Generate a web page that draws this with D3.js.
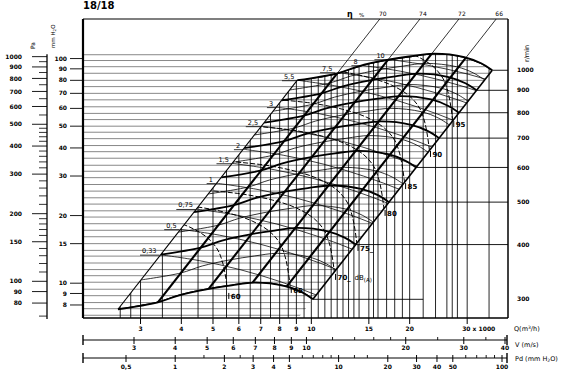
<!DOCTYPE html>
<html>
<head>
<meta charset="utf-8">
<script src="https://cdn.jsdelivr.net/npm/d3@7"></script>
<style>
body { margin: 0; background: #fff; }
text { font-family: "DejaVu Sans", sans-serif; fill: #000; }
</style>
</head>
<body>
<svg id="chart" width="566" height="371"></svg>
<script>
// fan 18/18 : base characteristic at 1000 r/min (Q in 1000 m3/h, P in mm H2O)
var baseQ = [9.06, 12.0, 13.95, 16.9, 20.2, 23.7, 29.4, 33.1, 35.8];
var baseP = [80.1, 86.0, 92.4, 98.3, 102.4, 105.2, 101.6, 95.3, 88.7];
var qExp = 1.05, pExp = 1.95;

var rpmCurves = [300, 350, 400, 450, 500, 550, 600, 650, 700, 750, 800, 850, 900, 950, 1000];
var rpmLabels = [1000, 900, 800, 700, 600, 500, 400, 300];

// efficiency lines, Q where they reach the top of the chart
var etaLabels = ["70", "74", "72", "66"];
var etaQ = [16.2, 21.5, 28.3, 36.8];

// absorbed power (kW), start point of each curve
var powerLabels = ["0,33", "0,5", "0,75", "1", "1,5", "2", "2,5", "3", "5,5", "7,5", "8", "10"];
var powerQ = [3.43, 3.95, 4.43, 5.10, 5.71, 6.18, 7.02, 7.80, 9.06, 11.85, 14.15, 17.13];
var powerP = [13.4, 17.4, 21.4, 27.9, 34.2, 39.5, 50.0, 60.8, 80.1, 86.9, 93.4, 99.3];
var powerShapeQ = [1, 1.327, 1.762, 2.338, 3.104, 4.120, 5.468, 7.257];
var powerShapeP = [1, 0.940, 0.858, 0.759, 0.651, 0.541, 0.432, 0.331];

// sound level dB(A), start point of each curve
var dbLabels = ["60", "65", "70", "75", "80", "85", "90", "95"];
var dbQ = [5.55, 8.62, 11.78, 13.8, 16.7, 19.3, 23.0, 27.1];
var dbP = [9.05, 9.63, 11.0, 14.8, 21.2, 27.9, 38.8, 52.7];
var dbShapeQ = [1, 0.986, 0.965, 0.932, 0.868, 0.764, 0.645, 0.521, 0.398];
var dbShapeP = [1, 1.166, 1.359, 1.553, 1.756, 1.965, 2.132, 2.268, 2.360];

// grid
var hGrid = [104, 98, 92, 86, 80, 75, 70, 65.5, 61, 57, 53.5, 50, 47, 44, 41, 38.5, 36, 33.5, 31.5,
  29.5, 27.5, 25.7, 24, 22.5, 21, 19.7, 18.4, 17.2, 16.1, 15, 14, 13.2, 12.3, 11.5, 10.8, 10.1,
  9.4, 8.8, 8.2, 7.7, 7.2];
var vGrid = [2.6, 2.8, 3, 3.5, 4, 4.5, 5, 5.5, 6, 6.5, 7, 7.5, 8, 8.5, 9, 9.5, 10, 10.5, 11, 11.5,
  12, 12.5, 13, 13.5, 14, 15, 15.5, 16, 17, 18, 19, 20, 22, 24, 26, 27, 28, 30, 35];

// axes
var qTicks = [3, 4, 5, 6, 7, 8, 9, 10, 15, 20, 30];
var mmTicks = [100, 90, 80, 70, 60, 50, 40, 30, 20, 15, 10, 9, 8];
var paTicks = [1000, 900, 800, 700, 600, 500, 400, 300, 200, 150, 100, 90, 80];
var paMinor = [950, 850, 750, 650, 550, 480, 460, 440, 420, 380, 360, 340, 320, 280, 260, 240, 220,
  190, 180, 170, 160, 140, 130, 120, 110, 70];
var vTicks = [3, 4, 5, 6, 7, 8, 9, 10, 20, 30, 40];
var vMinor = [12, 14, 16, 18, 25, 35];
var pdTicks = ["0,5", "1", "2", "3", "4", "5", "10", "20", "30", "40", "50", "100"];
var pdVals = [0.5, 1, 2, 3, 4, 5, 10, 20, 30, 40, 50, 100];
var pdMinor = [1.5, 2.5, 6, 7, 8, 9, 12.5, 15, 60, 70, 80, 90];

var fx0 = 83, fx1 = 508, fy0 = 19, fy1 = 318;
var x = d3.scaleLog().domain([2, 40]).range([fx0, fx1]);
var y = d3.scaleLog().domain([7, 150]).range([fy1, fy0]);
var vx = d3.scaleLog().domain([3, 40]).range([134, 505]);
var pdx = d3.scaleLog().domain([0.5, 100]).range([126, 502]);

var svg = d3.select("#chart");
var line = d3.line().curve(d3.curveCatmullRom.alpha(0.5));

function px(p) { return [x(p[0]), y(p[1])]; }
function fanCurve(n) {
  var s = n / 1000;
  return baseQ.map(function(q, i) { return [q * Math.pow(s, qExp), baseP[i] * Math.pow(s, pExp)]; });
}
function sysAt(pt, P) { return [pt[0] * Math.pow(P / pt[1], qExp / pExp), P]; }
function cont(d) { return d.replace(/^M/, "L"); }

var topPts = fanCurve(1000).map(px), botPts = fanCurve(300).map(px);
var topStart = topPts[0], topEnd = topPts[topPts.length - 1];
var leftFoot = px(sysAt(fanCurve(300)[0], 7));
var rightFoot = px(sysAt(fanCurve(1000)[8], 7));

var defs = svg.append("defs");
function clip(id, d) { defs.append("clipPath").attr("id", id).append("path").attr("d", d); }
clip("env", line(topPts) + cont(line(botPts.slice().reverse())) + "Z");
clip("above", "M" + fx0 + "," + fy0 + "L" + fx1 + "," + fy0 + "L" + fx1 + "," + topEnd[1] +
  cont(line(topPts.slice().reverse())) + "L" + fx0 + "," + topStart[1] + "Z");
clip("under", "M" + leftFoot + "L" + topStart + cont(line(topPts)) + "L" + fx1 + "," + topEnd[1] +
  "L" + fx1 + "," + fy1 + "Z");
clip("left", "M" + fx0 + "," + fy1 + "L" + fx0 + "," + fy0 + "L" + topPts[5][0] + "," + fy0 +
  cont(line(topPts.slice(5))) + "L" + rightFoot + "Z");

// horizontal grid
svg.append("g").attr("clip-path", "url(#left)").selectAll("line").data(hGrid).enter().append("line")
  .attr("x1", fx0).attr("x2", fx1)
  .attr("y1", function(d) { return y(d); }).attr("y2", function(d) { return y(d); })
  .attr("stroke", "#6a6a6a").attr("stroke-width", 0.8);

// rpm lines to the right scale
svg.append("g").selectAll("line").data(rpmLabels).enter().append("line")
  .attr("x1", function(n) { return x(fanCurve(n)[8][0]); })
  .attr("x2", function(n) { return n === 300 ? x(22) : fx1; })
  .attr("y1", function(n) { return y(fanCurve(n)[8][1]); })
  .attr("y2", function(n) { return y(fanCurve(n)[8][1]); })
  .attr("stroke", "#000").attr("stroke-width", 0.9);

// vertical grid
svg.append("g").attr("clip-path", "url(#under)").selectAll("line").data(vGrid).enter().append("line")
  .attr("x1", function(d) { return x(d); }).attr("x2", function(d) { return x(d); })
  .attr("y1", fy0).attr("y2", fy1)
  .attr("stroke", "#000").attr("stroke-width", 0.85);

// efficiency lines: thin above the envelope, thick inside
function etaPath(q) { return line([px([q, 150]), px(sysAt([q, 150], 7))]); }
svg.append("g").attr("clip-path", "url(#above)").selectAll("path").data(etaQ).enter().append("path")
  .attr("d", etaPath).attr("fill", "none").attr("stroke", "#000").attr("stroke-width", 0.8);

var inside = svg.append("g").attr("clip-path", "url(#env)");

// power curves
powerQ.forEach(function(q, i) {
  var pts = powerShapeQ.map(function(m, j) { return px([q * m, powerP[i] * powerShapeP[j]]); });
  inside.append("path").attr("d", line(pts)).attr("fill", "none")
    .attr("stroke", "#000").attr("stroke-width", 0.75);
});

// fan curves
inside.selectAll("path.rpm").data(rpmCurves).enter().append("path").attr("class", "rpm")
  .attr("d", function(n) { return line(fanCurve(n).map(px)); })
  .attr("fill", "none").attr("stroke", "#000")
  .attr("stroke-width", function(n) { return n % 100 === 0 ? 1.8 : 0.8; });

inside.selectAll("path.eta").data(etaQ).enter().append("path").attr("class", "eta")
  .attr("d", etaPath).attr("fill", "none").attr("stroke", "#000").attr("stroke-width", 2.1);

// sound level curves
dbQ.forEach(function(q, i) {
  var pts = dbShapeQ.map(function(m, j) { return px([q * m, dbP[i] * dbShapeP[j]]); });
  inside.append("path").attr("d", line(pts)).attr("fill", "none")
    .attr("stroke", "#000").attr("stroke-width", 1).attr("stroke-dasharray", "5,2");
});

// envelope edges
svg.append("path").attr("d", line([botPts[0], topStart])).attr("stroke", "#000")
  .attr("stroke-width", 1.1).attr("fill", "none");
svg.append("path").attr("d", line([botPts[botPts.length - 1], topEnd])).attr("stroke", "#000")
  .attr("stroke-width", 1.6).attr("fill", "none");
svg.append("path").attr("d", line(topPts)).attr("stroke", "#000").attr("stroke-width", 1.8).attr("fill", "none");
svg.append("path").attr("d", line(botPts)).attr("stroke", "#000").attr("stroke-width", 1.8).attr("fill", "none");

// frame
svg.append("line").attr("x1", fx0).attr("x2", fx0).attr("y1", fy0).attr("y2", fy1).attr("stroke", "#000").attr("stroke-width", 2.2);
svg.append("line").attr("x1", fx0).attr("x2", fx1).attr("y1", fy1).attr("y2", fy1).attr("stroke", "#000").attr("stroke-width", 1.6);
svg.append("line").attr("x1", fx0).attr("x2", fx1).attr("y1", fy0).attr("y2", fy0).attr("stroke", "#000").attr("stroke-width", 1.2);
svg.append("line").attr("x1", fx1).attr("x2", fx1).attr("y1", fy0).attr("y2", fy1).attr("stroke", "#000").attr("stroke-width", 1.5);

// title
svg.append("text").attr("x", fx0).attr("y", 9).attr("font-size", 10).attr("font-weight", "bold")
  .attr("font-family", "Liberation Sans, sans-serif").text("18/18");

// efficiency labels
svg.append("text").attr("x", 347).attr("y", 17).attr("font-size", 8).attr("font-weight", "bold").text("η");
svg.append("text").attr("x", 359).attr("y", 17).attr("font-size", 5.5).text("%");
svg.selectAll("text.eta").data(etaQ).enter().append("text").attr("class", "eta")
  .attr("x", function(d) { return x(d) + 3; }).attr("y", 16).attr("text-anchor", "middle")
  .attr("font-size", 6).text(function(d, i) { return etaLabels[i]; });

// power labels
powerQ.forEach(function(q, i) {
  var p = px([q, powerP[i]]);
  var t = svg.append("text").attr("x", p[0] - 3).attr("y", p[1] - 1.5).attr("text-anchor", "end")
    .attr("font-size", 6.5).text(powerLabels[i]);
  var w = t.node().getComputedTextLength();
  svg.append("line").attr("x1", p[0] - w - 5).attr("x2", p[0]).attr("y1", p[1] + 0.5).attr("y2", p[1] + 0.5)
    .attr("stroke", "#000").attr("stroke-width", 0.8);
});

// dB labels
dbQ.forEach(function(q, i) {
  var p = px([q, dbP[i]]);
  svg.append("line").attr("x1", p[0] + 1).attr("x2", p[0] + 1).attr("y1", p[1]).attr("y2", p[1] + 6)
    .attr("stroke", "#000").attr("stroke-width", 1);
  svg.append("text").attr("x", p[0] + 3).attr("y", p[1] + 6).attr("font-size", 7).attr("font-weight", "bold")
    .text(dbLabels[i] + (i >= 2 && i <= 3 ? "_" : ""));
});
var p70 = px([dbQ[2], dbP[2]]);
var dbt = svg.append("text").attr("x", p70[0] + 20).attr("y", p70[1] + 6).attr("font-size", 7);
dbt.append("tspan").text("dB");
dbt.append("tspan").attr("font-size", 5.5).attr("dy", 2).text("(A)");

// left scales
svg.append("line").attr("x1", 47).attr("x2", 47).attr("y1", y(1025 / 9.80665)).attr("y2", y(68 / 9.80665))
  .attr("stroke", "#000").attr("stroke-width", 1.3);
svg.selectAll("line.pa").data(paTicks).enter().append("line").attr("class", "pa")
  .attr("x1", 32).attr("x2", 47)
  .attr("y1", function(d) { return y(d / 9.80665); }).attr("y2", function(d) { return y(d / 9.80665); })
  .attr("stroke", "#000").attr("stroke-width", 0.9);
svg.selectAll("line.pam").data(paMinor).enter().append("line").attr("class", "pam")
  .attr("x1", 39).attr("x2", 47)
  .attr("y1", function(d) { return y(d / 9.80665); }).attr("y2", function(d) { return y(d / 9.80665); })
  .attr("stroke", "#000").attr("stroke-width", 0.8);
svg.selectAll("text.pa").data(paTicks).enter().append("text").attr("class", "pa")
  .attr("x", 22).attr("y", function(d) { return y(d / 9.80665); }).attr("dy", "0.35em")
  .attr("text-anchor", "end").attr("font-size", 6).attr("font-weight", "bold").text(function(d) { return d; });

svg.selectAll("line.mm").data(mmTicks).enter().append("line").attr("class", "mm")
  .attr("x1", 70).attr("x2", fx0)
  .attr("y1", function(d) { return y(d); }).attr("y2", function(d) { return y(d); })
  .attr("stroke", "#000").attr("stroke-width", 0.9);
svg.selectAll("text.mm").data(mmTicks).enter().append("text").attr("class", "mm")
  .attr("x", 67).attr("y", function(d) { return y(d); }).attr("dy", "0.35em")
  .attr("text-anchor", "end").attr("font-size", 6).attr("font-weight", "bold").text(function(d) { return d; });

svg.append("text").attr("transform", "translate(35,49) rotate(-90)").attr("font-size", 6).text("Pa");
var mmt = svg.append("text").attr("transform", "translate(55,48) rotate(-90)").attr("font-size", 5.5);
mmt.append("tspan").text("mm H");
mmt.append("tspan").attr("font-size", 4).attr("dy", 1).text("2");
mmt.append("tspan").attr("dy", -1).text("O");

// right scale (r/min)
svg.append("text").attr("transform", "translate(529,62) rotate(-90)").attr("font-size", 6.5).text("r/min");
svg.selectAll("text.rpm").data(rpmLabels).enter().append("text").attr("class", "rpm")
  .attr("x", 517).attr("y", function(n) { return y(fanCurve(n)[8][1]); }).attr("dy", "0.35em")
  .attr("font-size", 6).attr("font-weight", "bold").text(function(n) { return n; });

// Q axis
svg.selectAll("line.qt").data(qTicks).enter().append("line").attr("class", "qt")
  .attr("x1", function(d) { return x(d); }).attr("x2", function(d) { return x(d); })
  .attr("y1", fy1).attr("y2", fy1 + 6).attr("stroke", "#000").attr("stroke-width", 1);
svg.selectAll("text.qt").data(qTicks).enter().append("text").attr("class", "qt")
  .attr("x", function(d) { return d === 30 ? x(d) - 5 : x(d); }).attr("y", 331)
  .attr("text-anchor", function(d) { return d === 30 ? "start" : "middle"; })
  .attr("font-size", 6).attr("font-weight", "bold").text(function(d) { return d === 30 ? "30 x 1000" : d; });
var qt = svg.append("text").attr("x", 514).attr("y", 331).attr("font-size", 6.5);
qt.append("tspan").text("Q(m");
qt.append("tspan").attr("font-size", 4.5).attr("dy", -2).text("3");
qt.append("tspan").attr("dy", 2).text("/h)");

// V axis
svg.append("line").attr("x1", fx0).attr("x2", 507).attr("y1", 340).attr("y2", 340).attr("stroke", "#000").attr("stroke-width", 1);
svg.selectAll("line.vb").data([fx0, 507]).enter().append("line").attr("class", "vb")
  .attr("x1", function(d) { return d; }).attr("x2", function(d) { return d; }).attr("y1", 335).attr("y2", 345)
  .attr("stroke", "#000").attr("stroke-width", 1.4);
svg.selectAll("line.vt").data(vTicks).enter().append("line").attr("class", "vt")
  .attr("x1", function(d) { return vx(d); }).attr("x2", function(d) { return vx(d); })
  .attr("y1", 337).attr("y2", 344).attr("stroke", "#000").attr("stroke-width", 1);
svg.selectAll("line.vm").data(vMinor).enter().append("line").attr("class", "vm")
  .attr("x1", function(d) { return vx(d); }).attr("x2", function(d) { return vx(d); })
  .attr("y1", 337).attr("y2", 340).attr("stroke", "#000").attr("stroke-width", 0.9);
svg.selectAll("text.vt").data(vTicks).enter().append("text").attr("class", "vt")
  .attr("x", function(d) { return vx(d); }).attr("y", 349.5).attr("text-anchor", "middle")
  .attr("font-size", 6).attr("font-weight", "bold").text(function(d) { return d; });
svg.append("text").attr("x", 515).attr("y", 347).attr("font-size", 6.5).text("V (m/s)");

// Pd axis
svg.append("line").attr("x1", fx0).attr("x2", 507).attr("y1", 358).attr("y2", 358).attr("stroke", "#000").attr("stroke-width", 1);
svg.selectAll("line.pb").data([fx0, 507]).enter().append("line").attr("class", "pb")
  .attr("x1", function(d) { return d; }).attr("x2", function(d) { return d; }).attr("y1", 353).attr("y2", 363)
  .attr("stroke", "#000").attr("stroke-width", 1.4);
svg.selectAll("line.pt").data(pdVals).enter().append("line").attr("class", "pt")
  .attr("x1", function(d) { return pdx(d); }).attr("x2", function(d) { return pdx(d); })
  .attr("y1", 355).attr("y2", 362).attr("stroke", "#000").attr("stroke-width", 1);
svg.selectAll("line.pm").data(pdMinor).enter().append("line").attr("class", "pm")
  .attr("x1", function(d) { return pdx(d); }).attr("x2", function(d) { return pdx(d); })
  .attr("y1", 355).attr("y2", 358).attr("stroke", "#000").attr("stroke-width", 0.9);
svg.selectAll("text.pt").data(pdVals).enter().append("text").attr("class", "pt")
  .attr("x", function(d) { return pdx(d); }).attr("y", 369).attr("text-anchor", "middle")
  .attr("font-size", 6).attr("font-weight", "bold").text(function(d, i) { return pdTicks[i]; });
var pdt = svg.append("text").attr("x", 515).attr("y", 361).attr("font-size", 6.5);
pdt.append("tspan").text("Pd (mm H");
pdt.append("tspan").attr("font-size", 4.5).attr("dy", 1).text("2");
pdt.append("tspan").attr("dy", -1).text("O)");
</script>
</body>
</html>
